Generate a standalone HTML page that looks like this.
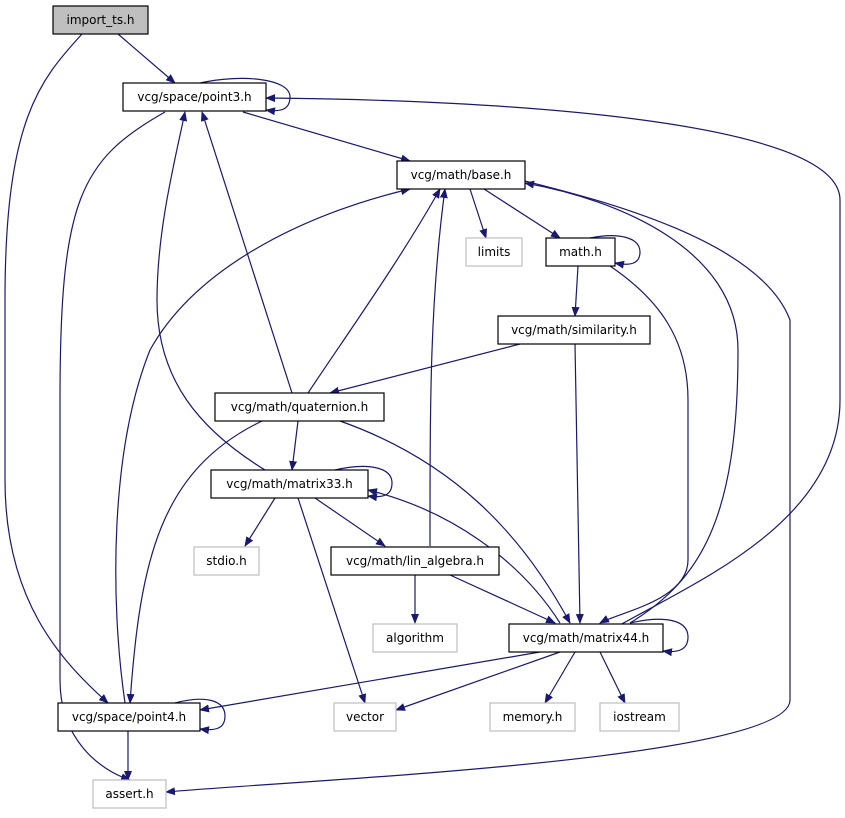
<!DOCTYPE html>
<html><head><meta charset="utf-8"><style>
html,body{margin:0;padding:0;background:#fff;}
svg text{font-family:"DejaVu Sans","Liberation Sans",sans-serif;font-size:12px;fill:#000;}
</style></head><body>
<svg width="845" height="813" viewBox="0 0 845 813" xmlns="http://www.w3.org/2000/svg">
<defs>
<marker id="a" markerWidth="10" markerHeight="8" refX="9" refY="4" orient="auto" markerUnits="userSpaceOnUse">
<path d="M0,0 L10,4 L0,8 z" fill="#191970"/>
</marker>
</defs>
<g fill="none" stroke="#191970" stroke-width="1.2" marker-end="url(#a)">
<path d="M118,34 L175,83"/>
<path d="M82,34 C40,80 5,120 5,300 L5,480 C5,600 60,660 108,703"/>
<path d="M200,83 C240,74 290,78 290,97 C290,110 280,112 266,110"/>
<path d="M243,112 L410,161"/>
<path d="M165,112 C80,160 60,200 60,400 L60,680 C60,740 100,770 130,780"/>
<path d="M470,189 L486,238"/>
<path d="M484,189 L560,238"/>
<path d="M525,181 C600,200 760,240 790,320 L790,700 C790,760 300,780 166,792"/>
<path d="M590,238 C620,232 640,238 640,252 C640,264 630,266 615,263"/>
<path d="M578,266 L575,316"/>
<path d="M610,266 C660,300 688,340 688,400 L688,560 C688,600 620,612 600,623"/>
<path d="M520,344 L330,393"/>
<path d="M575,344 L580,623"/>
<path d="M292,393 L202,112"/>
<path d="M308,393 C350,330 400,260 440,189"/>
<path d="M298,421 L292,470"/>
<path d="M262,421 C160,470 140,560 130,703"/>
<path d="M340,421 C450,460 520,530 570,623"/>
<path d="M265,470 C200,430 157,380 157,300 C157,230 175,160 185,112"/>
<path d="M335,470 C370,462 392,468 392,483 C392,496 382,498 368,496"/>
<path d="M275,498 L245,546"/>
<path d="M315,498 L385,546"/>
<path d="M298,498 L365,703"/>
<path d="M560,623 C520,560 450,510 368,490"/>
<path d="M430,546 C430,400 430,300 445,189"/>
<path d="M415,575 L415,623"/>
<path d="M450,575 L555,623"/>
<path d="M630,623 C665,615 688,620 688,637 C688,650 678,653 663,651"/>
<path d="M620,625 C700,580 840,520 840,400 L840,200 C840,120 500,100 266,98"/>
<path d="M630,623 C700,580 738,520 738,350 C738,250 620,200 525,183"/>
<path d="M540,652 L200,710"/>
<path d="M560,652 L396,710"/>
<path d="M575,652 L545,703"/>
<path d="M600,652 L625,703"/>
<path d="M125,703 C110,600 110,450 150,350 C200,260 320,210 410,189"/>
<path d="M175,703 C205,695 225,700 225,716 C225,729 215,731 200,729"/>
<path d="M128,731 L128,780"/>
</g>
<g stroke-width="1.2">
<rect x="53" y="6" width="95" height="28" fill="#bfbfbf" stroke="#000"/>
<rect x="123" y="83" width="143" height="28" fill="#fff" stroke="#000"/>
<rect x="397" y="161" width="128" height="28" fill="#fff" stroke="#000"/>
<rect x="466" y="238" width="56" height="28" fill="#fff" stroke="#bfbfbf"/>
<rect x="546" y="238" width="69" height="28" fill="#fff" stroke="#000"/>
<rect x="498" y="316" width="152" height="28" fill="#fff" stroke="#000"/>
<rect x="215" y="393" width="169" height="28" fill="#fff" stroke="#000"/>
<rect x="211" y="470" width="157" height="28" fill="#fff" stroke="#000"/>
<rect x="194" y="547" width="65" height="28" fill="#fff" stroke="#bfbfbf"/>
<rect x="331" y="547" width="168" height="28" fill="#fff" stroke="#000"/>
<rect x="373" y="624" width="84" height="28" fill="#fff" stroke="#bfbfbf"/>
<rect x="509" y="624" width="154" height="28" fill="#fff" stroke="#000"/>
<rect x="58" y="703" width="142" height="28" fill="#fff" stroke="#000"/>
<rect x="334" y="703" width="62" height="28" fill="#fff" stroke="#bfbfbf"/>
<rect x="490" y="703" width="85" height="28" fill="#fff" stroke="#bfbfbf"/>
<rect x="600" y="703" width="79" height="28" fill="#fff" stroke="#bfbfbf"/>
<rect x="93" y="780" width="73" height="28" fill="#fff" stroke="#bfbfbf"/>
</g>
<g text-anchor="middle">
<text x="100.5" y="24">import_ts.h</text>
<text x="194.5" y="101">vcg/space/point3.h</text>
<text x="461" y="179">vcg/math/base.h</text>
<text x="494" y="256">limits</text>
<text x="580.5" y="256">math.h</text>
<text x="574" y="334">vcg/math/similarity.h</text>
<text x="299.5" y="411">vcg/math/quaternion.h</text>
<text x="289.5" y="488">vcg/math/matrix33.h</text>
<text x="226.5" y="565">stdio.h</text>
<text x="415" y="565">vcg/math/lin_algebra.h</text>
<text x="415" y="642">algorithm</text>
<text x="586" y="642">vcg/math/matrix44.h</text>
<text x="129" y="721">vcg/space/point4.h</text>
<text x="365" y="721">vector</text>
<text x="532.5" y="721">memory.h</text>
<text x="639.5" y="721">iostream</text>
<text x="129.5" y="798">assert.h</text>
</g>
</svg>
</body></html>
